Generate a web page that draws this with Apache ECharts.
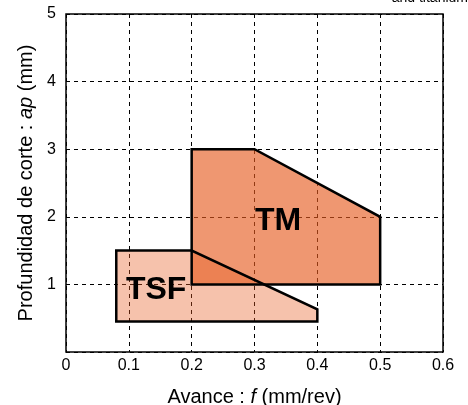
<!DOCTYPE html>
<html>
<head>
<meta charset="utf-8">
<script src="https://cdn.jsdelivr.net/npm/echarts@6/dist/echarts.min.js"></script>
<style>
  html, body { margin: 0; padding: 0; background: #fff; }
  #chart { width: 468px; height: 405px; }
</style>
</head>
<body>
<div id="chart"></div>
<script>
// zona TM (avance f, profundidad ap)
var tmF  = [0.2, 0.2, 0.3, 0.5, 0.5];
var tmAp = [1.0, 3.0, 3.0, 2.0, 1.0];
// zona TSF
var tsfF  = [0.08, 0.08, 0.2, 0.4, 0.4];
var tsfAp = [0.45, 1.5, 1.5, 0.63, 0.45];

var xTicks = [0, 0.1, 0.2, 0.3, 0.4, 0.5, 0.6];
var yTicks = [0, 1, 2, 3, 4, 5];

var labelNames = ['TM', 'TSF'];
var labelF  = [0.3375, 0.1435];
var labelAp = [1.93, 0.92];

var fuente = 'Liberation Sans, Arial, sans-serif';

// dibuja un poligono: relleno o solo borde
function zona(fs, aps, fill, borde) {
    return {
        type: 'custom',
        data: [0],
        silent: true,
        renderItem: function (params, api) {
            var pts = [];
            for (var i = 0; i < fs.length; i++) {
                pts.push(api.coord([fs[i], aps[i]]));
            }
            return {
                type: 'polygon',
                shape: { points: pts },
                style: borde
                    ? { fill: 'none', stroke: '#000', lineWidth: 2.5, lineJoin: 'miter' }
                    : { fill: fill }
            };
        }
    };
}

var tituloRich = {
    n: { fontSize: 20, color: '#000', fontFamily: fuente },
    i: { fontSize: 20, color: '#000', fontStyle: 'italic', fontFamily: fuente }
};

var chart = echarts.init(document.getElementById('chart'));
chart.setOption({
    animation: false,
    textStyle: { fontFamily: fuente },
    graphic: [{
        type: 'text', right: 0, top: -9,
        style: { text: 'and titanium', font: '14px ' + fuente, fill: '#000' }
    }],
    grid: {
        left: 66, right: 25, top: 14, bottom: 53,
        outerBoundsMode: 'none',
        show: true, borderColor: '#000', borderWidth: 1.5, backgroundColor: 'transparent'
    },
    xAxis: {
        type: 'value', min: xTicks[0], max: xTicks[xTicks.length - 1], interval: 0.1,
        name: '{n|Avance : }{i|f}{n| (mm/rev)}',
        nameLocation: 'middle', nameGap: 35,
        nameTextStyle: { rich: tituloRich },
        axisLine: { show: false },
        axisTick: { show: false },
        axisLabel: { color: '#000', fontSize: 16, margin: 6, formatter: function (v) { return +v.toFixed(1) + ''; } },
        splitLine: { show: true, lineStyle: { color: '#000', type: [4, 4], width: 1 } }
    },
    yAxis: {
        type: 'value', min: yTicks[0], max: yTicks[yTicks.length - 1], interval: 1,
        name: '{n|Profundidad de corte : }{i|ap}{n| (mm)}',
        nameLocation: 'middle', nameGap: 29,
        nameTextStyle: { rich: tituloRich },
        axisLine: { show: false },
        axisTick: { show: false },
        axisLabel: { color: '#000', fontSize: 16, margin: 10, showMinLabel: false },
        splitLine: { show: true, lineStyle: { color: '#000', type: [4, 4], width: 1 } }
    },
    series: [
        zona(tsfF, tsfAp, 'rgba(230,90,30,0.37)', false),
        zona(tmF, tmAp, 'rgba(230,90,30,0.63)', false),
        zona(tsfF, tsfAp, null, true),
        zona(tmF, tmAp, null, true),
        {
            type: 'custom',
            silent: true,
            data: labelNames.map(function (n, i) { return [labelF[i], labelAp[i]]; }),
            renderItem: function (params, api) {
                var p = api.coord([api.value(0), api.value(1)]);
                return {
                    type: 'text',
                    x: p[0], y: p[1],
                    style: {
                        text: labelNames[params.dataIndex],
                        font: 'bold 32px ' + fuente,
                        fill: '#000', align: 'center', verticalAlign: 'middle'
                    }
                };
            }
        }
    ]
});
</script>
</body>
</html>
